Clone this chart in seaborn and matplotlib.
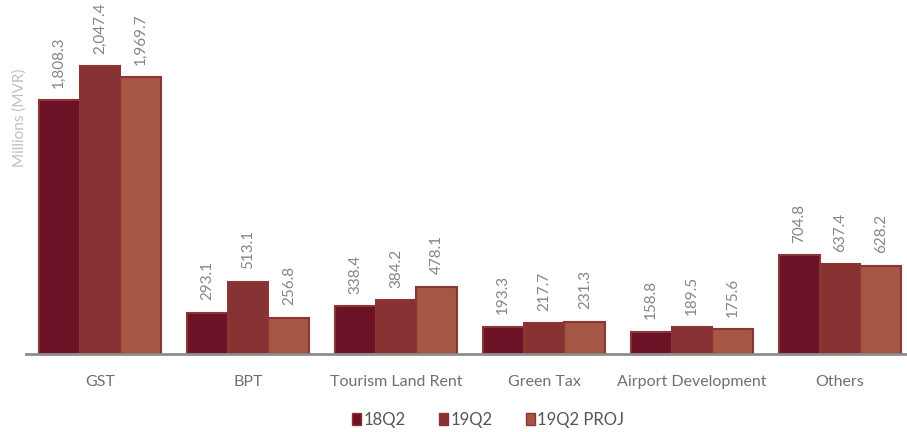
import matplotlib
matplotlib.use("Agg")
import matplotlib.pyplot as plt
from matplotlib.patches import Patch
import pandas as pd
import seaborn as sns

# DATA
categories = ["GST", "BPT", "Tourism Land Rent", "Green Tax", "Airport Development", "Others"]
series = ["18Q2", "19Q2", "19Q2 PROJ"]
vals_18q2 = [1808.3, 293.1, 338.4, 193.3, 158.8, 704.8]
vals_19q2 = [2047.4, 513.1, 384.2, 217.7, 189.5, 637.4]
vals_proj = [1969.7, 256.8, 478.1, 231.3, 175.6, 628.2]

colors = ["#6b1226", "#873232", "#a35744"]
edge = "#8e3434"

rows = []
for name, vals in zip(series, [vals_18q2, vals_19q2, vals_proj]):
    for c, v in zip(categories, vals):
        rows.append({"category": c, "series": name, "value": v})
df = pd.DataFrame(rows)

sns.set_style("white")
plt.rcParams["font.family"] = ["Lato", "DejaVu Sans"]

fig = plt.figure(figsize=(9.07, 4.32), dpi=100)
# axes spans a bit past the right edge, like the cropped original
ax = fig.add_axes([26 / 907, 78 / 432, 888 / 907, 309 / 432])

sns.barplot(data=df, x="category", y="value", hue="series", order=categories,
            hue_order=series, palette=colors, width=0.83, edgecolor=edge,
            linewidth=1.5, saturation=1, ax=ax, legend=False)

for cont in ax.containers:
    labels = [f"{b.get_height():,.1f}" for b in cont]
    ax.bar_label(cont, labels=labels, rotation=90, padding=9, fontsize=11,
                 color="#858585", clip_on=False)

ax.set_xlim(-0.5, 5.5)
ax.set_ylim(0, 2200)
ax.set_xlabel("")
ax.set_ylabel("")
ax.set_yticks([])
for s in ["top", "right", "left"]:
    ax.spines[s].set_visible(False)
ax.spines["bottom"].set_color("#8c8c8c")
ax.spines["bottom"].set_linewidth(2)

ax.tick_params(axis="x", which="major", length=0, pad=15, labelsize=11.5,
               labelcolor="#707070")
ax.set_xticks([i + 0.5 for i in range(5)], minor=True)
ax.tick_params(axis="x", which="minor", length=6, width=1, color="#8c8c8c",
               direction="out")

fig.text(20 / 907, 1 - 118 / 432, "Millions (MVR)", rotation=90, ha="center",
         va="center", fontsize=11, color="#c0c0c0")

handles = [Patch(facecolor=col, edgecolor=edge, linewidth=1) for col in colors]
fig.legend(handles, series, loc="center", bbox_to_anchor=(488 / 907, 1 - 420 / 432),
           ncol=3, frameon=False, fontsize=12, handlelength=0.55, handleheight=0.75,
           handletextpad=0.15, columnspacing=2.0, labelcolor="#555555")

fig.savefig("out.png", dpi=100, facecolor="white")
